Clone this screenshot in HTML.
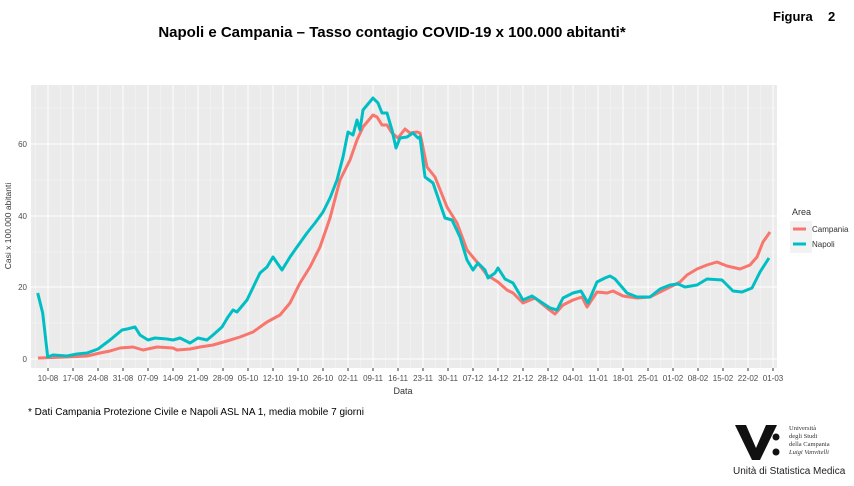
<!DOCTYPE html>
<html><head><meta charset="utf-8"><style>
body{margin:0;width:854px;height:481px;background:#fff;overflow:hidden;font-family:"Liberation Sans",sans-serif}
</style></head><body>
<svg width="854" height="481" xmlns="http://www.w3.org/2000/svg" font-family="Liberation Sans, sans-serif">
<text x="392" y="37" text-anchor="middle" font-size="15" font-weight="bold">Napoli e Campania – Tasso contagio COVID-19 x 100.000 abitanti*</text>
<text x="773" y="21" font-size="13" font-weight="bold">Figura</text>
<text x="828" y="21" font-size="13" font-weight="bold">2</text>
<rect x="31" y="85" width="746" height="283" fill="#ebebeb"/>
<g stroke="#f5f5f5" stroke-width="0.6" id="minor"></g>
<g stroke="#fff" stroke-width="1" id="major"></g>
<g font-size="8" fill="#4d4d4d" text-anchor="end">
<text x="27" y="362">0</text><text x="27" y="290">20</text><text x="27" y="219">40</text><text x="27" y="147">60</text>
</g>
<g id="xt" font-size="8" fill="#4d4d4d" text-anchor="middle"></g>
<text x="403" y="394" font-size="9" fill="#333" text-anchor="middle">Data</text>
<text transform="translate(11,226) rotate(-90)" font-size="8.5" fill="#333" text-anchor="middle">Casi x 100.000 abitanti</text>
<polyline fill="none" stroke="#f8766d" stroke-width="3" stroke-linejoin="round" points="38,358 67,357 87,356 100,353 110,351 120,348 133,347 143,350 157,347 173,348 177,350 190,349 200,347 213,345 227,341 240,337 253,332 267,322 280,315 290,303 300,283 310,267 320,247 330,218 340,180 350,160 357,140 363,127 373,115 377,117 382,125 387,125 392,133 398,138 405,129 410,133 417,132 420,133 427,167 435,177 447,207 457,223 467,250 477,262 487,275 498,282 507,290 513,293 523,303 535,298 547,308 555,314 563,305 573,300 582,297 587,307 597,292 607,293 613,291 623,296 637,298 650,297 660,292 670,287 680,282 687,275 697,269 707,265 717,262 727,266 740,269 750,265 757,257 763,242 770,232"/>
<polyline fill="none" stroke="#00bfc4" stroke-width="3" stroke-linejoin="round" points="37.7,293 42.7,313 47.7,357 53,355 67,356 77,354 87,353 98,349 110,340 122,330 127,329 135,327 140,335 148,340 155,338 167,339 173,340 180,338 190,343 198,338 207,340 213,335 222,327 228,317 233,310 237,312 247,300 260,273 267,267 273,257 282,270 290,257 297,247 307,233 315,223 323,212 330,198 337,180 343,157 348,132 353,135 357,120 360,130 363,110 373,98 378,103 382,113 387,113 392,130 396,148 400,138 407,137 413,133 418,138 420,137 425,177 433,183 445,218 452,220 460,237 467,260 473,270 478,263 485,270 488,278 495,273 498,268 505,279 513,283 523,300 532,296 538,300 550,308 557,310 563,298 573,293 581,291 588,303 597,282 605,278 610,276 615,279 627,293 637,297 650,297 660,289 670,285 678,284 685,287 697,285 707,279 722,280 733,291 742,292 752,288 760,272 769,258"/>
<text x="792" y="215" font-size="9" fill="#333">Area</text>
<rect x="790" y="221" width="22" height="32" fill="#f2f2f2"/>
<line x1="793" y1="229" x2="806" y2="229" stroke="#f8766d" stroke-width="3"/>
<line x1="793" y1="244" x2="806" y2="244" stroke="#00bfc4" stroke-width="3"/>
<text x="812" y="232" font-size="8" fill="#333">Campania</text>
<text x="812" y="247" font-size="8" fill="#333">Napoli</text>
<text x="28" y="415" font-size="10">* Dati Campania Protezione Civile e Napoli ASL NA 1,  media mobile 7 giorni</text>
<path d="M735 425 L746 425 L756 448 L766 425 L777 425 L760 460 L752 460 Z" fill="#111"/>
<circle cx="776" cy="437" r="3.5" fill="#111"/><circle cx="776" cy="452" r="3.5" fill="#111"/>
<g font-family="Liberation Serif, serif" font-size="6.5" fill="#333">
<text x="789" y="430">Università</text><text x="789" y="438">degli Studi</text><text x="789" y="446">della Campania</text><text x="789" y="454" font-style="italic">Luigi Vanvitelli</text></g>
<text x="733" y="474" font-size="10" fill="#222">Unità di Statistica Medica</text>
</svg>
<script>
const ns="http://www.w3.org/2000/svg";
const mj=document.getElementById('major'),mn=document.getElementById('minor'),xt=document.getElementById('xt');
function ln(g,x1,y1,x2,y2){const l=document.createElementNS(ns,'line');l.setAttribute('x1',x1);l.setAttribute('y1',y1);l.setAttribute('x2',x2);l.setAttribute('y2',y2);g.appendChild(l);}
[359,287,216,144].forEach(y=>ln(mj,31,y,777,y));
[323,252,180,108].forEach(y=>ln(mn,31,y,777,y));
const labs=["10-08","17-08","24-08","31-08","07-09","14-09","21-09","28-09","05-10","12-10","19-10","26-10","02-11","09-11","16-11","23-11","30-11","07-12","14-12","21-12","28-12","04-01","11-01","18-01","25-01","01-02","08-02","15-02","22-02","01-03"];
const st=(773-48)/29;
for(let i=0;i<30;i++){const x=48+i*st;ln(mj,x,85,x,368);ln(mn,x-st/2,85,x-st/2,368);
const l=document.createElementNS(ns,'line');l.setAttribute('x1',x);l.setAttribute('x2',x);l.setAttribute('y1',368);l.setAttribute('y2',371);l.setAttribute('stroke','#333');xt.appendChild(l);
const t=document.createElementNS(ns,'text');t.setAttribute('x',x);t.setAttribute('y',381);t.textContent=labs[i];xt.appendChild(t);}
</script>
</body></html>
